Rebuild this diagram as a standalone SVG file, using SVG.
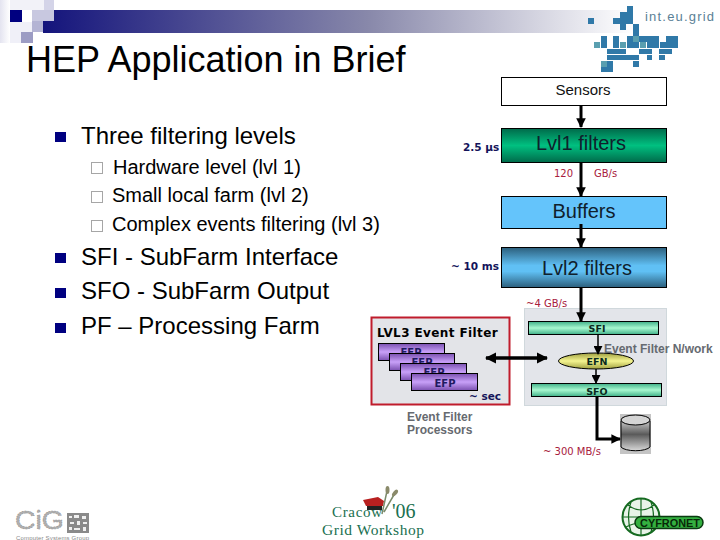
<svg xmlns="http://www.w3.org/2000/svg" width="720" height="540" viewBox="0 0 720 540">
<style>
text{font-family:"Liberation Sans",Arial,sans-serif}
.b1{font-size:24px;fill:#000}
.b2{font-size:20px;fill:#000}
.blt{fill:#000080}
.sq{fill:#fff;stroke:#a6a6a6;stroke-width:1}
.box{stroke:#000;stroke-width:1}
.lab{font-size:20px;fill:#10202c;text-anchor:middle}
.dv{font-family:"DejaVu Sans",sans-serif;font-weight:bold}
.red{font-family:"DejaVu Sans",sans-serif;font-size:10px;fill:#a8203c}
.navy{font-family:"DejaVu Sans",sans-serif;font-weight:bold;font-size:10.5px;fill:#14145a}
.efp{fill:url(#gp);stroke:#000;stroke-width:1}
.efpt{font-family:"DejaVu Sans",sans-serif;font-weight:bold;font-size:10px;fill:#201a60;text-anchor:middle}
.grn{fill:url(#gg);stroke:#000;stroke-width:1}
.mono{font-family:"DejaVu Sans",sans-serif;font-weight:bold;font-size:9.5px;fill:#0a2a20;text-anchor:middle}
.gr{font-weight:bold;font-size:12px;fill:#666a70}
.c{stroke:#000;fill:none}
.m{fill:#3079a8}.t{fill:#5a9fb0}
.ser{font-family:"Liberation Serif",serif;fill:#1a7050}
</style>
<defs>
<linearGradient id="band"><stop offset="0" stop-color="#14147c"/><stop offset=".55" stop-color="#8888aa"/><stop offset="1" stop-color="#ffffff"/></linearGradient>
<linearGradient id="l1" x1="0" y1="0" x2="0" y2="1"><stop offset="0" stop-color="#006a4a"/><stop offset=".5" stop-color="#00c080"/><stop offset="1" stop-color="#006a4a"/></linearGradient>
<linearGradient id="l2" x1="0" y1="0" x2="0" y2="1"><stop offset="0" stop-color="#2c5f7c"/><stop offset=".45" stop-color="#60c0f4"/><stop offset=".6" stop-color="#60c0f4"/><stop offset="1" stop-color="#2c5f7c"/></linearGradient>
<linearGradient id="gp" x1="0" y1="0" x2="0" y2="1"><stop offset="0" stop-color="#7a50b0"/><stop offset=".5" stop-color="#c8a0f8"/><stop offset="1" stop-color="#7a50b0"/></linearGradient>
<linearGradient id="gg" x1="0" y1="0" x2="0" y2="1"><stop offset="0" stop-color="#40b088"/><stop offset=".5" stop-color="#a8f8d0"/><stop offset="1" stop-color="#40b088"/></linearGradient>
<linearGradient id="gy" x1="0" y1="0" x2="0" y2="1"><stop offset="0" stop-color="#a0a040"/><stop offset=".5" stop-color="#f4f490"/><stop offset="1" stop-color="#a0a040"/></linearGradient>
<linearGradient id="cy" x1="0" y1="0" x2="0" y2="1"><stop offset="0" stop-color="#c8c8c8"/><stop offset=".45" stop-color="#5a5a5a"/><stop offset="1" stop-color="#d8d8d8"/></linearGradient>
<linearGradient id="fade"><stop offset="0" stop-color="#e4e4f0"/><stop offset="1" stop-color="#fff"/></linearGradient>
<marker id="a" viewBox="0 0 10 10" refX="9" refY="5" markerWidth="3.2" markerHeight="3.2" orient="auto-start-reverse"><path d="M0 0L10 5L0 10z" fill="#000"/></marker>
<marker id="a2" viewBox="0 0 10 10" refX="9" refY="5" markerWidth="6" markerHeight="6" orient="auto-start-reverse"><path d="M0 0L10 5L0 10z" fill="#000"/></marker>
</defs>

<g id="template">
<rect x="43" y="10" width="590" height="23" fill="url(#band)"/>
<rect x="0" y="0" width="10" height="43" fill="url(#fade)"/>
<rect x="10" y="0" width="44" height="10" fill="#f2f2f8"/>
<rect x="10" y="22" width="22" height="21" fill="#f0f0f8"/>
<rect x="10" y="10" width="12" height="12" fill="#000080"/>
<rect x="32" y="10" width="22" height="11" fill="#c8c8e0"/>
<rect x="44" y="0" width="10" height="10" fill="#d4d4e8"/>
<rect x="32" y="21" width="11" height="11" fill="#b4b4d4"/>
<rect x="21" y="32" width="12" height="11" fill="#9c9cc4"/>
</g>

<g id="logo-inteugrid">
<path class="m" d="M588 18h6v6h-6zM627 6h6v18h-6zM620 12h7v12h-7zM613 18h7v6h-7zM620 24h6v6h-6zM633 24h6v12h-6zM601 36h6v6h-6zM613 36h6v6h-6zM627 36h32v6h-32zM666 36h12v6h-12zM601 42h6v6h-6zM613 42h6v6h-6zM627 42h12v6h-12zM647 42h12v6h-12zM660 42h18v6h-18zM607 49h6v5h-6zM613 49h13v5h-13zM639 49h13v5h-13zM659 49h13v5h-13zM607 55h6v5h-6zM613 55h26v5h-26zM647 55h5v5h-5zM659 55h6v5h-6zM607 61h6v6h-6zM633 61h6v6h-6zM601 67h12v5h-12z"/>
<path class="t" d="M594 42h6v6h-6zM620 42h6v6h-6zM633 36h6v6h-6zM640 42h6v6h-6zM601 61h6v6h-6z"/>
<text x="645" y="21" font-size="13" fill="#5a7f96" letter-spacing="1.200">int.eu.grid</text>
</g>

<g id="title"><text x="26" y="72" font-size="36" fill="#000">HEP Application in Brief</text></g>

<g id="bullets">
<rect class="blt" x="55" y="132" width="11" height="10"/>
<text class="b1" x="81" y="144">Three filtering levels</text>
<rect class="sq" x="91.500" y="162.500" width="11" height="11"/>
<text class="b2" x="113" y="174">Hardware level (lvl 1)</text>
<rect class="sq" x="91.500" y="191.500" width="11" height="11"/>
<text class="b2" x="112" y="202">Small local farm (lvl 2)</text>
<rect class="sq" x="91.500" y="220.500" width="11" height="11"/>
<text class="b2" x="112" y="231">Complex events filtering (lvl 3)</text>
<rect class="blt" x="55" y="253" width="11" height="10"/>
<text class="b1" x="81" y="265">SFI - SubFarm Interface</text>
<rect class="blt" x="55" y="288" width="11" height="10"/>
<text class="b1" x="81" y="299">SFO - SubFarm Output</text>
<rect class="blt" x="55" y="323" width="11" height="10"/>
<text class="b1" x="81" y="334">PF – Processing Farm</text>
</g>

<g id="panel-efn"><rect x="524.500" y="308.500" width="142" height="97" fill="#e3e5ea" stroke="#d0d8dc"/></g>

<g id="sensors"><rect x="501.500" y="77.500" width="165" height="28" fill="#fff" stroke="#000"/><text x="583" y="95" font-size="15" text-anchor="middle" fill="#111">Sensors</text></g>
<g id="lvl1"><rect class="box" x="501.500" y="128.500" width="165" height="34" fill="url(#l1)"/><text class="lab" x="581" y="150">Lvl1 filters</text></g>
<g id="buffers"><rect class="box" x="501.500" y="196.500" width="165" height="32" fill="#64c4fb"/><text class="lab" x="584" y="218">Buffers</text></g>
<g id="lvl2"><rect class="box" x="501.500" y="247.500" width="165" height="40" fill="url(#l2)"/><text class="lab" x="587" y="275">Lvl2 filters</text></g>

<g id="labels">
<text class="navy" x="463" y="151">2.5 µs</text>
<text class="navy" x="451" y="270">~ 10 ms</text>
<text class="red" x="554" y="177">120</text>
<text class="red" x="594" y="177">GB/s</text>
<text class="red" x="526" y="307">~4 GB/s</text>
<text class="red" x="543" y="455">~ 300 MB/s</text>
</g>

<g id="lvl3">
<rect x="371.500" y="317.500" width="138" height="87" fill="#e3e4e8" stroke="#c01c2c" stroke-width="2"/>
<text class="dv" x="377" y="337" font-size="12" fill="#000" letter-spacing=".4">LVL3 Event Filter</text>
<rect class="efp" x="378.500" y="343.500" width="66" height="17"/><text class="efpt" x="411" y="356">EFP</text>
<rect class="efp" x="389.500" y="353.500" width="65" height="17"/><text class="efpt" x="422" y="366">EFP</text>
<rect class="efp" x="400.500" y="363.500" width="66" height="17"/><text class="efpt" x="434" y="376">EFP</text>
<rect class="efp" x="411.500" y="373.500" width="66" height="17"/><text class="efpt" x="445" y="387">EFP</text>
<text class="navy" x="469" y="400">~ sec</text>
</g>
<g id="efp-caption"><text class="gr" x="407" y="421">Event Filter</text><text class="gr" x="407" y="434">Processors</text></g>

<g id="sfi"><rect class="grn" x="528.500" y="321.500" width="130" height="13"/><text class="mono" x="597" y="332">SFI</text></g>
<g id="efn"><ellipse cx="596" cy="361" rx="37.500" ry="8" fill="url(#gy)" stroke="#000"/><text class="mono" x="597" y="365">EFN</text></g>
<g id="sfo"><rect class="grn" x="531.500" y="383.500" width="130" height="13"/><text class="mono" x="597" y="395">SFO</text></g>
<g id="efn-caption"><text class="gr" x="604" y="353">Event Filter N/work</text></g>

<g id="storage">
<rect x="620" y="414" width="31" height="40" fill="#c4c4c4"/>
<path d="M621 421V447A15 5 0 0 0 650 447V421z" fill="url(#cy)" stroke="#000"/>
<ellipse cx="635.500" cy="420" rx="14.500" ry="5" fill="#d4d4d4" stroke="#000"/>
</g>

<g id="connectors">
<path class="c" stroke-width="3" d="M581 105V127" marker-end="url(#a)"/>
<path class="c" stroke-width="3" d="M581 162V196" marker-end="url(#a)"/>
<path class="c" stroke-width="3" d="M581 224V247" marker-end="url(#a)"/>
<path class="c" stroke-width="3" d="M581 287V321" marker-end="url(#a)"/>
<path class="c" stroke-width="3" d="M597 396V439H620" marker-end="url(#a)"/>
<path class="c" stroke-width="3.500" d="M486 358H547" marker-start="url(#a)" marker-end="url(#a)"/>
<path class="c" stroke-width="1.500" d="M598 334V354" marker-end="url(#a2)"/>
<path class="c" stroke-width="1.500" d="M596 369V383" marker-end="url(#a2)"/>
</g>

<g id="logo-cig">
<text x="15" y="529" font-size="25" fill="#b0b0b0" stroke="#8a8a8a" stroke-width=".5" stroke-dasharray="1.500 1" textLength="49" lengthAdjust="spacingAndGlyphs">CiG</text>
<rect x="67" y="513" width="22" height="20" fill="#8a8a8a"/>
<path d="M69 516h3v2h-3zM74 515h5v3h-5zM82 516h4v3h-4zM70 522h4v2h-4zM77 521h3v4h-3zM83 522h4v2h-4zM69 527h3v3h-3zM74 528h6v2h-6zM83 527h3v4h-3z" fill="#f0f0f0"/>
<text x="16" y="540" font-size="6" fill="#888" textLength="73">Computer Systems Group</text>
</g>

<g id="logo-cracow">
<path d="M363 500L378 497L384 501L383 506H366z" fill="#b82020"/>
<rect x="367" y="506" width="15" height="4" fill="#222"/>
<path d="M382 514L387 491M384 512L395 493" stroke="#7a8a6a" stroke-width="1.500" fill="none"/>
<ellipse cx="387.500" cy="490" rx="2" ry="4" fill="#8a8a6a"/>
<ellipse cx="395" cy="493" rx="2" ry="4" transform="rotate(40 395 493)" fill="#8a8a6a"/>
<text class="ser" x="332" y="517" font-size="15" textLength="50">Cracow</text>
<text class="ser" x="392" y="518" font-size="20">'06</text>
<text class="ser" x="322" y="535" font-size="15.500" textLength="102">Grid Workshop</text>
</g>

<g id="logo-cyfronet">
<circle cx="641" cy="517" r="18.500" fill="#e8f4e8" stroke="#156a20" stroke-width="2"/>
<path d="M623 517H659M641 499V535M628 505Q641 515 654 505M626 527Q641 519 656 527M631 502Q626 517 631 532M651 502Q656 517 651 532" fill="none" stroke="#156a20" stroke-width="1.200"/>
<rect x="635" y="516.500" width="68" height="12" rx="6" fill="#34b040" stroke="#0a3a10" stroke-width="1.500"/>
<text x="640" y="526.500" font-size="10.500" font-weight="bold" fill="#082808" textLength="60" lengthAdjust="spacingAndGlyphs">CYFRONET</text>
</g>
</svg>
